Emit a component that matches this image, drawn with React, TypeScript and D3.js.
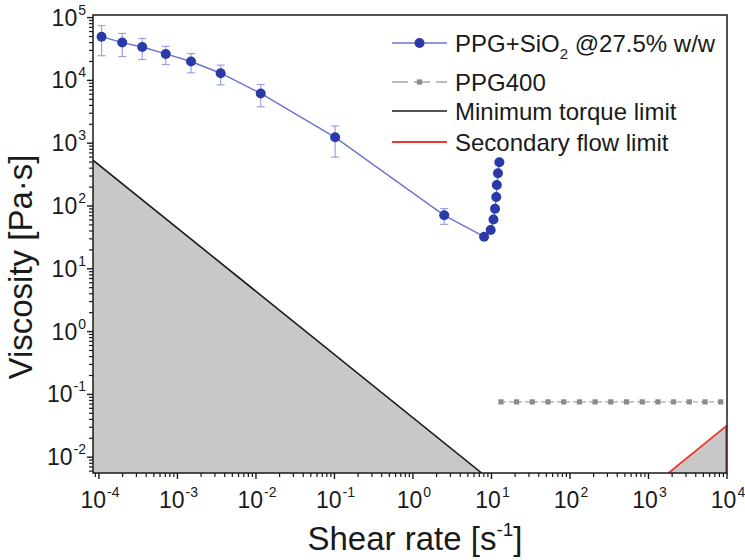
import React from "react";
import * as d3 from "d3";

// ---- data ----
const shearRate = [1.08e-4, 1.98e-4, 3.56e-4, 7.1e-4, 1.49e-3, 3.55e-3, 1.15e-2, 0.102, 2.5, 8.05, 9.77, 10.6, 11.1, 11.5, 11.7, 12.1, 12.6];
const viscosity = [4.97e4, 4.0e4, 3.4e4, 2.64e4, 2.0e4, 1.3e4, 6.2e3, 1.24e3, 71, 32.4, 41.5, 61, 90.6, 139, 216, 332, 498];
const viscErr = [2.5e4, 1.6e4, 1.25e4, 0.85e4, 0.68e4, 4.5e3, 2.4e3, 640, 20, 0, 0, 0, 0, 0, 0, 0, 0];

const ppgRate = [13.2, 20.9, 33.1, 52.5, 83.2, 132, 209, 331, 525, 832, 1320, 2090, 3310, 5250, 8320];
const ppgVisc = [0.076, 0.076, 0.076, 0.076, 0.076, 0.076, 0.076, 0.076, 0.076, 0.076, 0.076, 0.076, 0.076, 0.076, 0.076];

const torqueRate = [8.4e-5, 7.5];
const torqueVisc = [536, 5.6e-3];

const secRate = [1800, 1e4];
const secVisc = [5.6e-3, 0.032];

const xTickExp = [-4, -3, -2, -1, 0, 1, 2, 3, 4];
const yTickExp = [-2, -1, 0, 1, 2, 3, 4, 5];

const legendLabels = ["PPG+SiO", "PPG400", "Minimum torque limit", "Secondary flow limit"];

const FONT = "'Liberation Sans', Arial, sans-serif";

export default function App() {
  const left = 93, right = 727, top = 15, bottom = 473;
  const x = d3.scaleLog().domain([8.4e-5, 1e4]).range([left, right]);
  const y = d3.scaleLog().domain([5.6e-3, 1.1e5]).range([bottom, top]);

  const xMinor: number[] = [];
  for (let e = -5; e <= 3; e++) for (let k = 2; k <= 9; k++) {
    const v = k * Math.pow(10, e);
    if (v >= x.domain()[0] && v <= x.domain()[1]) xMinor.push(v);
  }
  const yMinor: number[] = [];
  for (let e = -3; e <= 4; e++) for (let k = 2; k <= 9; k++) {
    const v = k * Math.pow(10, e);
    if (v >= y.domain()[0] && v <= y.domain()[1]) yMinor.push(v);
  }

  const line = d3.line<[number, number]>().x(d => x(d[0])).y(d => y(d[1]));
  const blue = shearRate.map((r, i) => [r, viscosity[i]] as [number, number]);
  const ppg = ppgRate.map((r, i) => [r, ppgVisc[i]] as [number, number]);
  const torque = torqueRate.map((r, i) => [r, torqueVisc[i]] as [number, number]);
  const sec = secRate.map((r, i) => [r, secVisc[i]] as [number, number]);

  const torqueArea = `M${x(torque[0][0])},${y(torque[0][1])}L${x(torque[1][0])},${y(torque[1][1])}L${left},${bottom}Z`;
  const secArea = `M${x(sec[0][0])},${y(sec[0][1])}L${x(sec[1][0])},${y(sec[1][1])}L${right},${bottom}Z`;

  const blueLine = "#6b73cf";
  const blueDot = "#2a3aa8";
  const errCol = "#9da1e0";

  const legY = [43, 82, 111, 142];
  const legX0 = 392, legX1 = 447, legTx = 455;

  return (
    <svg width={745} height={560} style={{ display: "block", position: "absolute", left: 0, top: 0, background: "#fff" }} fontFamily={FONT}>
      <defs>
        <clipPath id="plotclip">
          <rect x={left} y={top} width={right - left} height={bottom - top} />
        </clipPath>
      </defs>
      <rect width={745} height={560} fill="#fff" />
      <g clipPath="url(#plotclip)">
        <path d={torqueArea} fill="#c8c8c8" />
        <path d={secArea} fill="#c8c8c8" />
        <path d={line(torque)!} stroke="#1a1a1a" strokeWidth={1.6} fill="none" />
        <path d={line(sec)!} stroke="#ee3a2c" strokeWidth={1.8} fill="none" />
        <line x1={right - 1} x2={right - 1} y1={y(sec[1][1])} y2={bottom} stroke="#ee3a2c" strokeWidth={1.5} />
        <path d={line(ppg)!} stroke="#a6a6a6" strokeWidth={1.3} strokeDasharray="5,3" fill="none" />
        {ppg.map((d, i) => (
          <rect key={i} x={x(d[0]) - 2.6} y={y(d[1]) - 2.6} width={5.2} height={5.2} fill="#8a8a8a" />
        ))}
        <path d={line(blue)!} stroke={blueLine} strokeWidth={1.4} fill="none" />
        {blue.map((d, i) => viscErr[i] > 0 ? (
          <g key={"e" + i} stroke={errCol} strokeWidth={1.2}>
            <line x1={x(d[0])} x2={x(d[0])} y1={y(d[1] + viscErr[i])} y2={y(d[1] - viscErr[i])} />
            <line x1={x(d[0]) - 4} x2={x(d[0]) + 4} y1={y(d[1] + viscErr[i])} y2={y(d[1] + viscErr[i])} />
            <line x1={x(d[0]) - 4} x2={x(d[0]) + 4} y1={y(d[1] - viscErr[i])} y2={y(d[1] - viscErr[i])} />
          </g>
        ) : null)}
        {blue.map((d, i) => (
          <circle key={"c" + i} cx={x(d[0])} cy={y(d[1])} r={5} fill={blueDot} />
        ))}
      </g>
      <rect x={left} y={top} width={right - left} height={bottom - top} fill="none" stroke="#1a1a1a" strokeWidth={1.5} />
      {xTickExp.map(e => (
        <line key={"xt" + e} x1={x(Math.pow(10, e))} x2={x(Math.pow(10, e))} y1={bottom} y2={bottom + 6} stroke="#1a1a1a" strokeWidth={1.4} />
      ))}
      {xMinor.map((v, i) => (
        <line key={"xm" + i} x1={x(v)} x2={x(v)} y1={bottom} y2={bottom + 4} stroke="#1a1a1a" strokeWidth={1.2} />
      ))}
      {yTickExp.map(e => (
        <line key={"yt" + e} x1={left - 6} x2={left} y1={y(Math.pow(10, e))} y2={y(Math.pow(10, e))} stroke="#1a1a1a" strokeWidth={1.4} />
      ))}
      {yMinor.map((v, i) => (
        <line key={"ym" + i} x1={left - 4} x2={left} y1={y(v)} y2={y(v)} stroke="#1a1a1a" strokeWidth={1.2} />
      ))}
      {xTickExp.map(e => (
        <text key={"xl" + e} x={x(Math.pow(10, e)) + 1} y={508} textAnchor="middle" fontSize={23} fill="#1a1a1a">
          10<tspan fontSize={14} dx={1} dy={-11}>{e}</tspan>
        </text>
      ))}
      {yTickExp.map(e => (
        <text key={"yl" + e} x={86} y={y(Math.pow(10, e)) + 8} textAnchor="end" fontSize={23} fill="#1a1a1a">
          10<tspan fontSize={14} dx={1} dy={-11}>{e}</tspan>
        </text>
      ))}
      <text x={415} y={550} textAnchor="middle" fontSize={33} fill="#1a1a1a">
        Shear rate [s<tspan fontSize={19} dy={-14}>-1</tspan><tspan dy={14}>]</tspan>
      </text>
      <text transform={`translate(32,267) rotate(-90)`} textAnchor="middle" fontSize={33} fill="#1a1a1a">
        Viscosity [Pa·s]
      </text>
      <g fontSize={24} fill="#1a1a1a">
        <line x1={legX0} x2={legX1} y1={legY[0]} y2={legY[0]} stroke={blueLine} strokeWidth={1.4} />
        <circle cx={(legX0 + legX1) / 2} cy={legY[0]} r={5} fill={blueDot} />
        <text x={legTx} y={legY[0] + 8.5}>{legendLabels[0]}<tspan fontSize={15} dy={7}>2</tspan><tspan dy={-7}> @27.5% w/w</tspan></text>

        <line x1={legX0} x2={legX1} y1={legY[1]} y2={legY[1]} stroke="#a6a6a6" strokeWidth={1.3} strokeDasharray="16,6" />
        <rect x={(legX0 + legX1) / 2 - 2.6} y={legY[1] - 2.6} width={5.2} height={5.2} fill="#8a8a8a" />
        <text x={legTx} y={legY[1] + 8.5}>{legendLabels[1]}</text>

        <line x1={legX0} x2={legX1} y1={legY[2]} y2={legY[2]} stroke="#1a1a1a" strokeWidth={1.6} />
        <text x={legTx} y={legY[2] + 8.5}>{legendLabels[2]}</text>

        <line x1={legX0} x2={legX1} y1={legY[3]} y2={legY[3]} stroke="#ee3a2c" strokeWidth={1.8} />
        <text x={legTx} y={legY[3] + 8.5}>{legendLabels[3]}</text>
      </g>
    </svg>
  );
}
